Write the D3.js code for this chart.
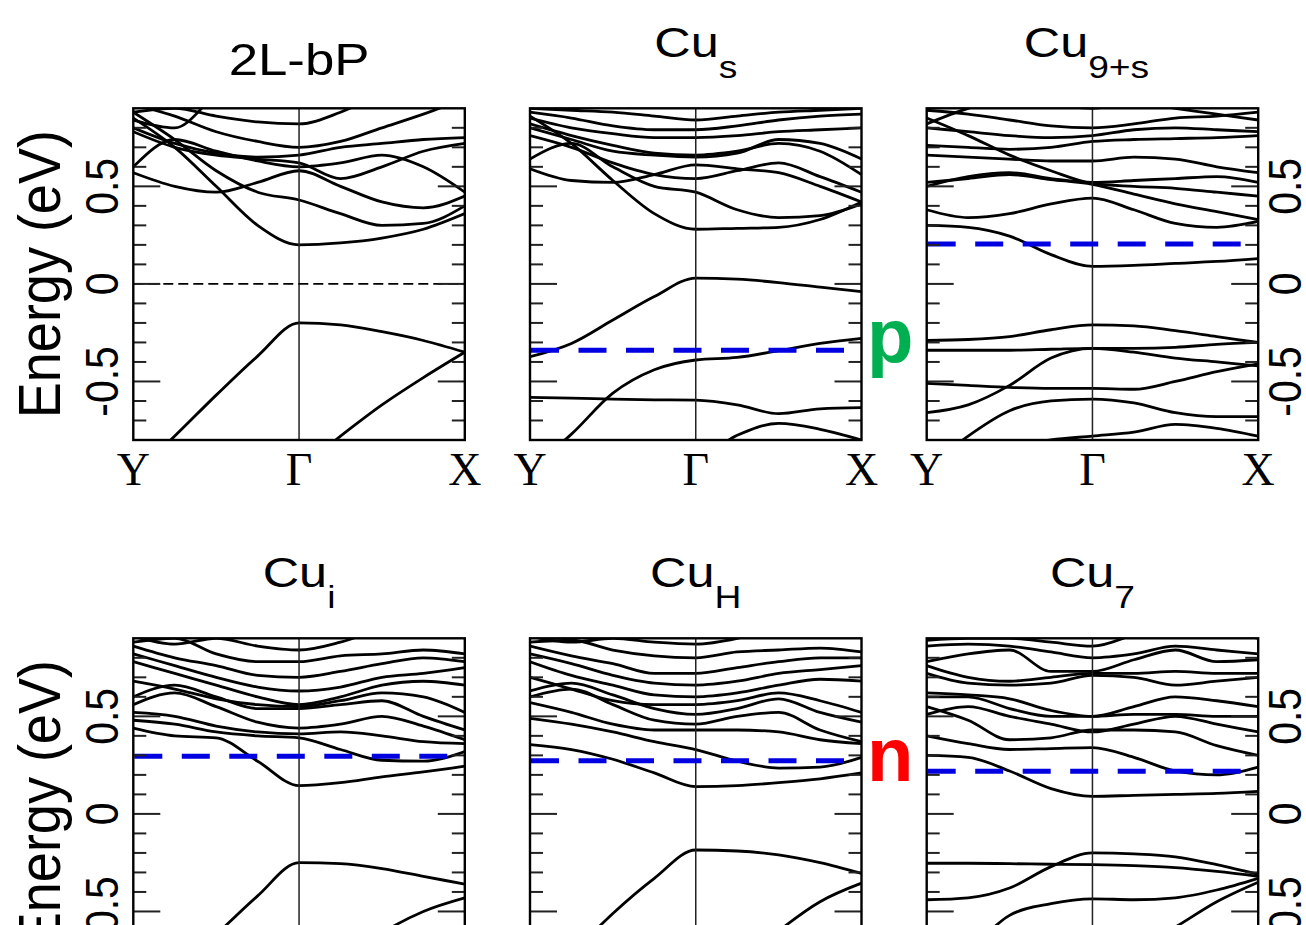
<!DOCTYPE html>
<html>
<head>
<meta charset="utf-8">
<script src="https://cdn.jsdelivr.net/npm/d3@7"></script>
<style>
	body { margin: 0; background: #fff; }
	svg { display: block; }
</style>
</head>
<body>
<div id="chart"></div>
<script>
/***********************************************************
  Start: Data
***********************************************************/
// k-path sampling Y -> Gamma -> X
var kPoints = [0, 0.25, 0.5, 0.75, 1, 1.25, 1.5, 1.75, 2];
var kLabels = ['Y', 'Γ', 'X'];
var kLabelPos = [0, 1, 2];
var energyTicks = [-0.5, 0, 0.5];
var energyTickLabels = ['-0.5', '0', '0.5'];

var panelNames = ['2L-bP', 'Cu', 'Cu', 'Cu', 'Cu', 'Cu'];
var panelSubs = ['', 's', '9+s', 'i', 'H', '7'];
// Fermi level of each panel (eV); first one is the black reference line
var fermiLevels = [0, -0.34, 0.205, 0.295, 0.272, 0.218];
var dopingLabels = ['p', 'n'];
var dopingColors = ['#00b050', '#ff0000'];

var bands2LbP = [
	[-0.98, -0.78, -0.57, -0.37, -0.20, -0.21, -0.245, -0.29, -0.35],
	[-1.30, -1.20, -1.10, -1.00, -0.95, -0.78, -0.62, -0.48, -0.35],
	[0.85, 0.70, 0.50, 0.30, 0.20, 0.21, 0.235, 0.28, 0.36],
	[0.57, 0.50, 0.47, 0.52, 0.58, 0.50, 0.42, 0.39, 0.45],
	[0.88, 0.74, 0.58, 0.47, 0.43, 0.36, 0.30, 0.31, 0.40],
	[0.60, 0.74, 0.68, 0.63, 0.60, 0.62, 0.66, 0.60, 0.47],
	[0.78, 0.70, 0.66, 0.64, 0.62, 0.54, 0.60, 0.68, 0.72],
	[0.80, 0.72, 0.67, 0.65, 0.66, 0.70, 0.72, 0.74, 0.75],
	[0.84, 0.80, 0.97, 1.10, 1.10, 1.10, 1.10, 1.10, 1.10],
	[0.88, 0.90, 0.86, 0.83, 0.82, 0.88, 0.98, 1.08, 1.10],
	[0.92, 0.86, 0.78, 0.73, 0.70, 0.73, 0.80, 0.87, 0.95]
];
var bandsCuS = [
	[-0.373, -0.305, -0.185, -0.065, 0.03, 0.024, 0.007, -0.017, -0.04],
	[-0.95, -0.77, -0.56, -0.44, -0.39, -0.377, -0.342, -0.305, -0.279],
	[-0.582, -0.585, -0.59, -0.594, -0.596, -0.62, -0.665, -0.64, -0.634],
	[-1.00, -0.98, -0.95, -0.92, -0.90, -0.776, -0.715, -0.745, -0.80],
	[0.86, 0.72, 0.53, 0.36, 0.28, 0.285, 0.29, 0.33, 0.42],
	[0.59, 0.53, 0.52, 0.56, 0.61, 0.59, 0.57, 0.50, 0.42],
	[0.64, 0.72, 0.60, 0.50, 0.47, 0.38, 0.34, 0.35, 0.41],
	[0.76, 0.70, 0.62, 0.56, 0.54, 0.58, 0.62, 0.55, 0.47],
	[0.80, 0.74, 0.68, 0.66, 0.65, 0.67, 0.74, 0.72, 0.64],
	[0.82, 0.76, 0.71, 0.67, 0.66, 0.68, 0.72, 0.68, 0.56],
	[0.85, 0.80, 0.77, 0.75, 0.75, 0.76, 0.78, 0.79, 0.80],
	[0.88, 0.85, 0.81, 0.79, 0.79, 0.81, 0.84, 0.86, 0.87],
	[0.90, 0.89, 0.88, 0.86, 0.84, 0.86, 0.88, 0.89, 0.90]
];
var bandsCu9s = [
	[-0.29, -0.285, -0.27, -0.235, -0.21, -0.215, -0.24, -0.27, -0.30],
	[-0.34, -0.34, -0.34, -0.335, -0.33, -0.33, -0.325, -0.31, -0.30],
	[-0.66, -0.62, -0.52, -0.38, -0.33, -0.35, -0.38, -0.40, -0.42],
	[-0.51, -0.52, -0.53, -0.535, -0.535, -0.54, -0.50, -0.45, -0.41],
	[-0.95, -0.78, -0.65, -0.60, -0.59, -0.61, -0.66, -0.68, -0.68],
	[-0.92, -0.88, -0.84, -0.80, -0.78, -0.76, -0.72, -0.74, -0.78],
	[0.30, 0.29, 0.245, 0.15, 0.09, 0.095, 0.105, 0.115, 0.13],
	[0.38, 0.34, 0.36, 0.41, 0.44, 0.38, 0.31, 0.29, 0.32],
	[0.52, 0.54, 0.56, 0.535, 0.51, 0.46, 0.41, 0.37, 0.33],
	[0.50, 0.55, 0.57, 0.54, 0.52, 0.53, 0.54, 0.55, 0.52],
	[0.85, 0.76, 0.66, 0.58, 0.515, 0.50, 0.49, 0.47, 0.45],
	[0.66, 0.65, 0.64, 0.63, 0.63, 0.65, 0.64, 0.60, 0.57],
	[0.71, 0.70, 0.69, 0.70, 0.73, 0.74, 0.745, 0.75, 0.76],
	[0.80, 0.78, 0.76, 0.75, 0.76, 0.79, 0.80, 0.79, 0.78],
	[0.89, 0.87, 0.84, 0.81, 0.80, 0.82, 0.85, 0.86, 0.88],
	[0.82, 0.90, 0.95, 0.92, 0.90, 0.93, 0.90, 0.87, 0.84]
];
var bandsCuI = [
	[-1.03, -0.83, -0.62, -0.42, -0.25, -0.255, -0.28, -0.32, -0.36],
	[-1.40, -1.25, -1.10, -1.00, -0.92, -0.76, -0.61, -0.50, -0.43],
	[0.44, 0.40, 0.39, 0.27, 0.145, 0.16, 0.19, 0.215, 0.245],
	[0.48, 0.46, 0.42, 0.40, 0.39, 0.33, 0.275, 0.27, 0.32],
	[0.52, 0.50, 0.45, 0.42, 0.41, 0.42, 0.40, 0.37, 0.36],
	[0.56, 0.62, 0.55, 0.47, 0.44, 0.46, 0.50, 0.45, 0.38],
	[0.60, 0.66, 0.60, 0.54, 0.54, 0.56, 0.58, 0.50, 0.43],
	[0.68, 0.64, 0.59, 0.56, 0.55, 0.58, 0.62, 0.60, 0.52],
	[0.78, 0.72, 0.66, 0.60, 0.56, 0.60, 0.66, 0.68, 0.66],
	[0.82, 0.76, 0.70, 0.65, 0.63, 0.65, 0.70, 0.72, 0.75],
	[0.86, 0.80, 0.76, 0.71, 0.70, 0.73, 0.77, 0.80, 0.78],
	[0.88, 0.90, 0.82, 0.78, 0.78, 0.81, 0.82, 0.84, 0.82],
	[0.91, 0.87, 0.90, 0.86, 0.84, 0.88, 0.95, 1.00, 0.90]
];
var bandsCuH = [
	[-0.93, -0.72, -0.51, -0.33, -0.185, -0.19, -0.21, -0.25, -0.305],
	[-1.30, -1.20, -1.10, -1.00, -0.95, -0.78, -0.60, -0.45, -0.355],
	[0.355, 0.33, 0.28, 0.21, 0.14, 0.145, 0.16, 0.18, 0.21],
	[0.49, 0.46, 0.42, 0.37, 0.33, 0.27, 0.235, 0.24, 0.29],
	[0.57, 0.52, 0.46, 0.43, 0.43, 0.43, 0.42, 0.38, 0.36],
	[0.60, 0.64, 0.56, 0.48, 0.46, 0.50, 0.52, 0.43, 0.37],
	[0.63, 0.67, 0.61, 0.54, 0.51, 0.54, 0.59, 0.52, 0.47],
	[0.70, 0.64, 0.58, 0.56, 0.56, 0.58, 0.62, 0.58, 0.52],
	[0.78, 0.71, 0.66, 0.61, 0.60, 0.62, 0.66, 0.69, 0.68],
	[0.82, 0.77, 0.71, 0.67, 0.66, 0.68, 0.72, 0.74, 0.76],
	[0.86, 0.81, 0.77, 0.72, 0.72, 0.75, 0.78, 0.80, 0.80],
	[0.88, 0.89, 0.84, 0.81, 0.80, 0.83, 0.84, 0.85, 0.83],
	[0.91, 0.88, 0.90, 0.88, 0.87, 0.90, 0.96, 1.00, 0.92]
];
var bandsCu7 = [
	[-0.44, -0.43, -0.38, -0.27, -0.20, -0.205, -0.22, -0.26, -0.31],
	[-0.253, -0.253, -0.255, -0.258, -0.26, -0.265, -0.275, -0.295, -0.32],
	[-0.85, -0.70, -0.52, -0.46, -0.435, -0.44, -0.43, -0.39, -0.33],
	[-1.00, -0.95, -0.90, -0.85, -0.80, -0.70, -0.58, -0.45, -0.35],
	[0.30, 0.29, 0.22, 0.13, 0.09, 0.095, 0.10, 0.105, 0.115],
	[0.40, 0.36, 0.33, 0.335, 0.34, 0.29, 0.22, 0.20, 0.24],
	[0.55, 0.48, 0.38, 0.39, 0.43, 0.43, 0.42, 0.35, 0.30],
	[0.51, 0.55, 0.50, 0.46, 0.42, 0.46, 0.50, 0.46, 0.42],
	[0.60, 0.60, 0.54, 0.50, 0.50, 0.51, 0.51, 0.50, 0.50],
	[0.62, 0.61, 0.59, 0.53, 0.50, 0.55, 0.60, 0.58, 0.55],
	[0.72, 0.67, 0.66, 0.67, 0.71, 0.70, 0.66, 0.68, 0.70],
	[0.76, 0.70, 0.68, 0.70, 0.72, 0.72, 0.73, 0.72, 0.72],
	[0.78, 0.82, 0.84, 0.73, 0.73, 0.79, 0.84, 0.78, 0.79],
	[0.86, 0.87, 0.86, 0.83, 0.80, 0.82, 0.86, 0.84, 0.82],
	[0.89, 0.90, 0.90, 0.88, 0.86, 0.92, 1.00, 0.95, 0.90]
];
var panelBands = [bands2LbP, bandsCuS, bandsCu9s, bandsCuI, bandsCuH, bandsCu7];
/***********************************************************
  End: Data
***********************************************************/

var width = 1306, height = 925;
var colLeft = [133.3, 530, 926.7];
var rowTop = [108.3, 638.3];
var panelW = 331.5, panelH = 331.7;
var sansFont = '"Liberation Sans", Arial, Helvetica, sans-serif';
var serifFont = '"Liberation Serif", "Times New Roman", serif';

var svg = d3.select('#chart').append('svg')
	.attr('width', width)
	.attr('height', height);

var x = d3.scaleLinear().domain([0, 2]).range([0, panelW]);
var y = d3.scaleLinear().domain([-0.8, 0.9]).range([panelH, 0]);
var minorTicks = y.ticks(17).filter(function(t) {
	return t > -0.79 && t < 0.89 && energyTicks.indexOf(Math.round(t * 10) / 10) < 0;
});

var bandLine = d3.line()
	.x(function(d, i) { return x(kPoints[i]); })
	.y(function(d) { return y(d); })
	.curve(d3.curveMonotoneX);

for (var p = 0; p < 6; p++) {
	var col = p % 3, row = Math.floor(p / 3);
	var g = svg.append('g')
		.attr('transform', 'translate(' + colLeft[col] + ',' + rowTop[row] + ')');

	g.append('clipPath').attr('id', 'clip' + p)
		.append('rect')
		.attr('width', panelW).attr('height', panelH);

	// Bands
	var inner = g.append('g').attr('clip-path', 'url(#clip' + p + ')');
	inner.selectAll('path.band')
		.data(panelBands[p])
		.enter().append('path')
		.attr('class', 'band')
		.attr('d', bandLine)
		.attr('fill', 'none')
		.attr('stroke', '#000')
		.attr('stroke-width', 2.8)
		.attr('stroke-linejoin', 'round');

	// Gamma line
	g.append('line')
		.attr('x1', x(1)).attr('x2', x(1))
		.attr('y1', 0).attr('y2', panelH)
		.attr('stroke', '#222')
		.attr('stroke-width', 1.5);

	// Fermi level
	if (p == 0) {
		g.append('line')
			.attr('x1', 0).attr('x2', panelW)
			.attr('y1', y(fermiLevels[p])).attr('y2', y(fermiLevels[p]))
			.attr('stroke', '#000')
			.attr('stroke-width', 1.8)
			.attr('stroke-dasharray', '10,5');
	} else {
		g.append('line')
			.attr('x1', 1).attr('x2', panelW - 15)
			.attr('y1', y(fermiLevels[p])).attr('y2', y(fermiLevels[p]))
			.attr('stroke', '#0000e0')
			.attr('stroke-width', 5)
			.attr('stroke-dasharray', '28,19.5');
	}

	// Ticks on both sides, pointing inward
	var allTicks = minorTicks.map(function(t) { return {v: t, len: 13}; })
		.concat(energyTicks.map(function(t) { return {v: t, len: 27}; }));
	allTicks.forEach(function(t) {
		g.append('line')
			.attr('x1', 0).attr('x2', t.len)
			.attr('y1', y(t.v)).attr('y2', y(t.v))
			.attr('stroke', '#222').attr('stroke-width', 2);
		g.append('line')
			.attr('x1', panelW - t.len).attr('x2', panelW)
			.attr('y1', y(t.v)).attr('y2', y(t.v))
			.attr('stroke', '#222').attr('stroke-width', 2);
	});

	// Frame
	g.append('rect')
		.attr('width', panelW).attr('height', panelH)
		.attr('fill', 'none')
		.attr('stroke', '#000')
		.attr('stroke-width', 2.4);

	// k labels
	g.selectAll('text.k')
		.data(kLabels)
		.enter().append('text')
		.attr('class', 'k')
		.attr('x', function(d, i) { return x(kLabelPos[i]); })
		.attr('y', panelH + 45)
		.attr('text-anchor', 'middle')
		.style('font-family', serifFont)
		.style('font-size', '46px')
		.text(function(d) { return d; });

	// Title
	var cx = colLeft[col] + x(1);
	var t;
	if (panelSubs[p] == '') {
		t = svg.append('text')
			.attr('transform', 'translate(' + cx + ',' + (rowTop[row] - 33) + ') scale(1.2,1)')
			.style('font-size', '44px');
	} else {
		t = svg.append('text')
			.attr('transform', 'translate(' + (cx - (p == 2 ? 6 : 0)) + ',' + (rowTop[row] - 51) + ') scale(1.2,1)')
			.style('font-size', '42px');
	}
	t.attr('text-anchor', 'middle').style('font-family', sansFont);
	t.append('tspan').text(panelNames[p]);
	if (panelSubs[p] != '') {
		t.append('tspan').attr('dy', 21).style('font-size', '31px').text(panelSubs[p]);
	}

	// Energy axis: labels on the left of column 0, on the right of column 2
	if (col == 0 || col == 2) {
		var lx = col == 0 ? colLeft[0] - 15 : colLeft[2] + panelW + 43;
		energyTicks.forEach(function(v, i) {
			svg.append('text')
				.attr('transform', 'translate(' + lx + ',' + (rowTop[row] + y(v)) + ') scale(1.12,1) rotate(-90)')
				.attr('text-anchor', 'middle')
				.style('font-family', sansFont)
				.style('font-size', '41px')
				.text(energyTickLabels[i]);
		});
	}
	if (col == 0) {
		svg.append('text')
			.attr('transform', 'translate(60,' + (rowTop[row] + y(0.05)) + ') scale(1.1,1) rotate(-90)')
			.attr('text-anchor', 'middle')
			.style('font-family', sansFont)
			.style('font-size', '54px')
			.text('Energy (eV)');
	}
}

/***********************************************************
  Start: p / n markers between the panels
***********************************************************/
dopingLabels.forEach(function(lab, i) {
	svg.append('text')
		.attr('x', 867)
		.attr('y', rowTop[i] + y(fermiLevels[i == 0 ? 1 : 4]) + (i == 0 ? 12 : 20))
		.style('font-family', sansFont)
		.style('font-weight', 'bold')
		.style('font-size', '76px')
		.attr('fill', dopingColors[i])
		.text(lab);
});
/***********************************************************
  End: p / n markers
***********************************************************/
</script>
</body>
</html>
